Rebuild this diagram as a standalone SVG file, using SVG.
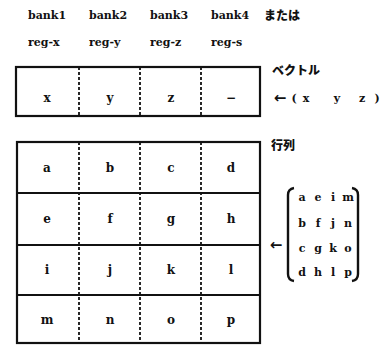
<svg xmlns="http://www.w3.org/2000/svg" width="391" height="351" viewBox="0 0 391 351">
<style>
.t{font-family:"DejaVu Serif","Liberation Serif",serif;font-weight:bold;font-size:11px;fill:#111}
.c{font-family:"DejaVu Serif","Liberation Serif",serif;font-weight:bold;font-size:12px;fill:#111;text-anchor:middle}
.m{font-family:"DejaVu Serif","Liberation Serif",serif;font-weight:bold;font-size:11px;fill:#111;text-anchor:middle}
.a{font-family:"DejaVu Sans","Liberation Sans",sans-serif;font-weight:bold;font-size:15px;fill:#111;text-anchor:middle}
.j{font-family:"Noto Sans CJK JP",sans-serif;font-weight:900;font-size:12px;fill:#111}
.box{fill:#fff;stroke:#111;stroke-width:2.2}
.sep{stroke:#111;stroke-width:2.2}
.dash{stroke:#111;stroke-width:1.8;stroke-dasharray:3 2}
.br{fill:none;stroke:#111;stroke-width:2.4}
</style>
<rect width="391" height="351" fill="#fff"/>
<g id="header">
<text class="t" x="28" y="19">bank1</text>
<text class="t" x="89" y="19">bank2</text>
<text class="t" x="150" y="19">bank3</text>
<text class="t" x="211" y="19">bank4</text>
<text class="j" x="264" y="20">または</text>
<text class="t" x="28" y="46">reg-x</text>
<text class="t" x="89" y="46">reg-y</text>
<text class="t" x="150" y="46">reg-z</text>
<text class="t" x="211" y="46">reg-s</text>
</g>
<g id="vector">
<rect class="box" x="16" y="67" width="244" height="49"/>
<text class="c" x="47" y="102">x</text>
<text class="c" x="110" y="102">y</text>
<text class="c" x="171" y="102">z</text>
<text class="c" x="231" y="102">−</text>
</g>
<g id="vector-label">
<text class="j" x="272" y="75">ベクトル</text>
<text class="a" x="280" y="103">←</text>
<text class="m" x="294" y="102">(</text>
<text class="m" x="306" y="102">x</text>
<text class="m" x="337" y="102">y</text>
<text class="m" x="362" y="102">z</text>
<text class="m" x="377" y="102">)</text>
</g>
<g id="matrix">
<rect class="box" x="17" y="142" width="243" height="201"/>
<line class="sep" x1="17" y1="193" x2="260" y2="193"/>
<line class="sep" x1="17" y1="245" x2="260" y2="245"/>
<line class="sep" x1="17" y1="295" x2="260" y2="295"/>
<text class="c" x="47" y="172">a</text><text class="c" x="110" y="172">b</text><text class="c" x="171" y="172">c</text><text class="c" x="231" y="172">d</text>
<text class="c" x="47" y="223">e</text><text class="c" x="110" y="223">f</text><text class="c" x="171" y="223">g</text><text class="c" x="231" y="223">h</text>
<text class="c" x="47" y="274">i</text><text class="c" x="110" y="274">j</text><text class="c" x="171" y="274">k</text><text class="c" x="231" y="274">l</text>
<text class="c" x="47" y="324">m</text><text class="c" x="110" y="324">n</text><text class="c" x="171" y="324">o</text><text class="c" x="231" y="324">p</text>
</g>
<g id="matrix-label">
<text class="j" x="271" y="150">行列</text>
<text class="a" x="276" y="250">←</text>
<path class="br" d="M294,188 Q288,189 288,195 L288,274 Q288,280 294,281"/>
<path class="br" d="M352,188 Q358,189 358,195 L358,274 Q358,280 352,281"/>
<text class="m" x="302" y="201">a</text><text class="m" x="318" y="201">e</text><text class="m" x="333" y="201">i</text><text class="m" x="348" y="201">m</text>
<text class="m" x="302" y="227">b</text><text class="m" x="318" y="227">f</text><text class="m" x="333" y="227">j</text><text class="m" x="348" y="227">n</text>
<text class="m" x="302" y="252">c</text><text class="m" x="318" y="252">g</text><text class="m" x="333" y="252">k</text><text class="m" x="348" y="252">o</text>
<text class="m" x="302" y="276">d</text><text class="m" x="318" y="276">h</text><text class="m" x="333" y="276">l</text><text class="m" x="348" y="276">p</text>
</g>
<g id="connectors">
<line class="dash" x1="79" y1="67" x2="79" y2="116"/>
<line class="dash" x1="140" y1="67" x2="140" y2="116"/>
<line class="dash" x1="201" y1="67" x2="201" y2="116"/>
<line class="dash" x1="79" y1="142" x2="79" y2="343"/>
<line class="dash" x1="140" y1="142" x2="140" y2="343"/>
<line class="dash" x1="201" y1="142" x2="201" y2="343"/>
</g>
</svg>
